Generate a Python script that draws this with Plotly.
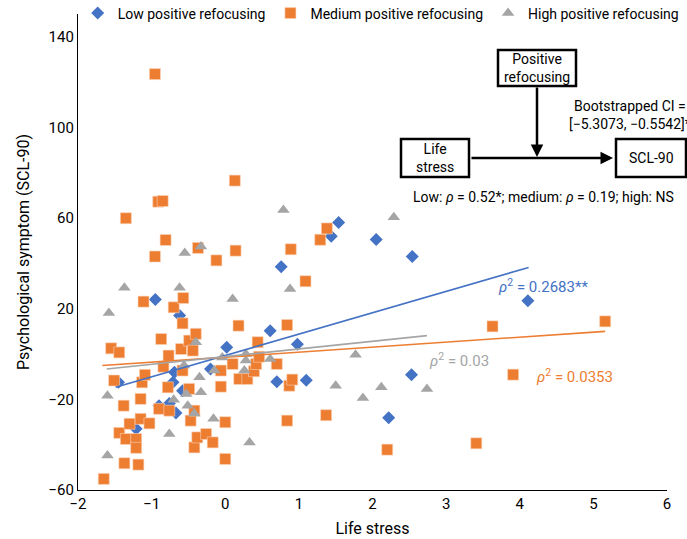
import plotly.graph_objects as go

# ---------------- data ----------------
low_x = [-1.45, -1.21, -0.95, -0.90, -0.76, -0.71, -0.69, -0.67, -0.62, -0.58,
         -0.20, 0.02, 0.61, 0.70, 0.76, 0.98, 1.10, 1.44, 1.54, 2.05,
         2.22, 2.53, 2.54, 4.11]
low_y = [-12.5, -33.0, 24.0, -22.8, -21.8, -12.5, -8.0, -26.0, 17.0, -16.2,
         -6.6, 3.0, 10.3, -12.2, 38.5, 4.3, -11.6, 51.9, 58.0, 50.5,
         -28.1, -9.2, 43.0, 23.5]

med_x = [-1.65, -1.55, -1.51, -1.44, -1.44, -1.38, -1.37, -1.35, -1.35, -1.30,
         -1.21, -1.21, -1.18, -1.15, -1.15, -1.13, -1.11, -1.09, -1.03, -0.955,
         -0.955, -0.91, -0.90, -0.87, -0.85, -0.84, -0.81, -0.78, -0.77, -0.76,
         -0.70, -0.60, -0.58, -0.58, -0.57, -0.49, -0.49, -0.47, -0.44, -0.42,
         -0.42, -0.40, -0.38, -0.37, -0.26, -0.17, -0.12, -0.06, -0.06, 0.00,
         0.00, 0.10, 0.13, 0.14, 0.18, 0.19, 0.30, 0.39, 0.42, 0.44,
         0.46, 0.70, 0.84, 0.84, 0.87, 0.89, 0.91, 1.09, 1.29, 1.37,
         1.38, 2.20, 3.41, 3.63, 3.91, 5.16]
med_y = [-55.1, 2.5, -11.7, 0.7, -34.8, -22.8, -48.2, 59.9, -37.5, -30.8,
         -37.5, -41.4, -48.8, -19.8, -28.6, -12.5, 23.1, -9.2, -30.6, 123.5,
         43.0, 67.2, -24.2, 6.6, 67.5, -5.6, 50.3, -14.7, -0.7, -25.0,
         20.6, 2.2, 13.5, -7.3, 24.7, 5.9, -15.4, -29.4, 1.5, -41.2,
         -25.0, 8.9, -36.8, 46.8, -35.3, -39.0, 41.3, -7.3, -14.4, -30.1,
         -46.3, -4.4, 76.5, 45.6, 12.5, -11.0, -11.0, -7.6, -4.4, 5.2,
         -1.2, -4.4, 12.8, -29.4, -14.0, 46.2, -11.3, 32.1, 50.4, -27.0,
         55.4, -42.2, -39.4, 12.2, -9.1, 14.4]

high_x = [-1.60, -1.60, -1.58, -1.37, -0.76, -0.70, -0.62, -0.56, -0.55, -0.53,
          -0.51, -0.42, -0.40, -0.35, -0.33, -0.33, -0.16, -0.15, -0.04, 0.10,
          0.26, 0.28, 0.28, 0.33, 0.61, 0.79, 0.88, 1.50, 1.77, 1.87,
          2.12, 2.29, 2.74]
high_y = [-18.4, -44.8, 18.1, 29.2, -35.3, -20.2, 29.2, -5.1, 44.6, -17.7,
          -22.8, -26.2, 5.2, -10.3, 47.4, -16.9, -28.6, -7.3, -1.5, 24.3,
          -7.3, 0.0, -2.9, -39.0, -2.2, 63.5, 28.7, -14.0, -0.3, -19.4,
          -14.7, 60.3, -15.4]

# fitted trend lines (endpoints)
low_fit_x = [-1.49, 4.12]
low_fit_y = [-14.7, 38.2]
med_fit_x = [-1.67, 5.16]
med_fit_y = [-5.1, 10.0]
high_fit_x = [-1.61, 2.74]
high_fit_y = [-6.6, 8.1]

group_names = ["Low positive refocusing", "Medium positive refocusing", "High positive refocusing"]
r2_labels = ["0.2683**", "0.0353", "0.03"]

# ---------------- styling ----------------
BLUE = "#4472C4"
ORANGE = "#ED7D31"
GRAY = "#A5A5A5"
FONT = "Roboto"

W, H = 687, 539
ML, MR, MT, MB = 78, 20, 14, 49
PW, PH = W - ML - MR, H - MT - MB


def px(x):
    return (x - ML) / PW


def py(y):
    return (H - MB - y) / PH


fig = go.Figure()

fig.add_trace(go.Scatter(x=low_x, y=low_y, mode="markers", name=group_names[0],
                         marker=dict(symbol="diamond", size=10, color=BLUE)))
fig.add_trace(go.Scatter(x=med_x, y=med_y, mode="markers", name=group_names[1],
                         marker=dict(symbol="square", size=11, color=ORANGE,
                                     line=dict(width=0.6, color="#FBD3B8"))))
fig.add_trace(go.Scatter(x=high_x, y=high_y, mode="markers", name=group_names[2],
                         marker=dict(symbol="triangle-up", size=11, color=GRAY)))

fig.add_trace(go.Scatter(x=low_fit_x, y=low_fit_y, mode="lines", showlegend=False,
                         line=dict(color=BLUE, width=1.6), hoverinfo="skip"))
fig.add_trace(go.Scatter(x=med_fit_x, y=med_fit_y, mode="lines", showlegend=False,
                         line=dict(color=ORANGE, width=1.6), hoverinfo="skip"))
fig.add_trace(go.Scatter(x=high_fit_x, y=high_fit_y, mode="lines", showlegend=False,
                         line=dict(color=GRAY, width=1.6), hoverinfo="skip"))

annotations = []
# r^2 labels (data coords)
annotations.append(dict(x=4.31, y=30.2, xref="x", yref="y", showarrow=False,
                        text="<i>ρ</i><sup>2</sup> = " + r2_labels[0],
                        font=dict(family=FONT, size=15, color=BLUE)))
annotations.append(dict(x=4.75, y=-9.5, xref="x", yref="y", showarrow=False,
                        text="<i>ρ</i><sup>2</sup> = " + r2_labels[1],
                        font=dict(family=FONT, size=15, color=ORANGE)))
annotations.append(dict(x=3.18, y=-2.6, xref="x", yref="y", showarrow=False,
                        text="<i>ρ</i><sup>2</sup> = " + r2_labels[2],
                        font=dict(family=FONT, size=15, color=GRAY)))

# diagram texts
dfont = dict(family=FONT, size=14, color="black")


def txt(x, y, t):
    return dict(x=px(x), y=py(y), xref="paper", yref="paper", showarrow=False,
                xanchor="center", yanchor="middle", text=t, font=dfont, align="center")


annotations.append(txt(537, 67.5, "Positive<br>refocusing"))
annotations.append(txt(435, 157.5, "Life<br>stress"))
annotations.append(txt(651, 158, "SCL-90"))
annotations.append(txt(630, 115, "Bootstrapped CI =<br>[−5.3073, −0.5542]*"))
annotations.append(txt(543, 197, "Low: <i>ρ</i> = 0.52*; medium: <i>ρ</i> = 0.19; high: NS"))
# arrows
annotations.append(dict(x=px(613), y=py(158), xref="paper", yref="paper", text="",
                        showarrow=True, ax=-143, ay=0, arrowhead=2, arrowsize=1,
                        arrowwidth=2.5, arrowcolor="black"))
annotations.append(dict(x=px(537), y=py(157), xref="paper", yref="paper", text="",
                        showarrow=True, ax=0, ay=-71, arrowhead=2, arrowsize=1,
                        arrowwidth=2.5, arrowcolor="black"))

shapes = []
for (x0, y0, x1, y1) in [(498, 50, 576, 86), (401, 139, 469, 177), (616, 139, 686, 177)]:
    shapes.append(dict(type="rect", xref="paper", yref="paper",
                       x0=px(x0), x1=px(x1), y0=py(y1), y1=py(y0),
                       line=dict(color="black", width=2.5), fillcolor="rgba(0,0,0,0)",
                       layer="above"))

fig.update_layout(
    width=W, height=H,
    margin=dict(l=ML, r=MR, t=MT, b=MB, autoexpand=False),
    plot_bgcolor="white", paper_bgcolor="white",
    font=dict(family=FONT, size=15, color="black"),
    showlegend=True,
    legend=dict(orientation="h", x=-0.0005, y=1.001, xanchor="left", yanchor="middle",
                font=dict(family=FONT, size=14), bgcolor="rgba(0,0,0,0)",
                itemclick=False, tracegroupgap=0, itemwidth=30),
    xaxis=dict(range=[-2, 6], dtick=1, showgrid=False, zeroline=False,
               showline=True, linecolor="black", linewidth=1.2, ticks="",
               title=dict(text="Life stress", font=dict(size=16), standoff=10),
               tickfont=dict(size=15)),
    yaxis=dict(range=[-60, 150], tickvals=[-60, -20, 20, 60, 100, 140], showgrid=False,
               zeroline=False, showline=True, linecolor="black", linewidth=1.2, ticks="",
               title=dict(text="Psychological symptom (SCL-90)", font=dict(size=16), standoff=14),
               tickfont=dict(size=15)),
    annotations=annotations,
    shapes=shapes,
)

fig.write_html("out.html", post_script="document.body.style.margin='0';",
               config={"displayModeBar": False})
